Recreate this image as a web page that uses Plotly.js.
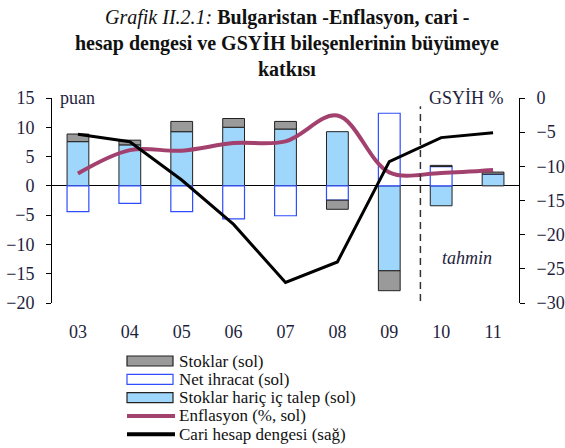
<!DOCTYPE html>
<html>
<head>
<meta charset="utf-8">
<script src="https://cdn.plot.ly/plotly-3.0.1.min.js"></script>
<style>
  html, body { margin: 0; padding: 0; background: #fff; }
  #chart { width: 565px; height: 448px; }
</style>
</head>
<body>
<div id="chart"></div>
<script>
// Bulgaristan: GSYİH bileşenlerinin büyümeye katkısı (puan, sol), enflasyon (sol), cari denge (GSYİH %, sağ)
const YEARS = ["03", "04", "05", "06", "07", "08", "09", "10", "11"];
const X_POS = [0, 1, 2, 3, 4, 5, 6, 7, 8];
const BOUNDARIES = [0.5, 1.5, 2.5, 3.5, 4.5, 5.5, 6.5, 7.5];

const domesticDemand = [7.55, 7.0, 9.25, 10.0, 9.7, 9.25, -14.5, -3.4, 2.0];
const netExports = [-4.4, -3.0, -4.4, -5.65, -5.1, -2.45, 12.4, 3.3, 0];
const stocks = [1.3, 0.8, 1.75, 1.5, 1.3, -1.55, -3.4, 0.2, 0.35];
const inflation = [2.1, 6.1, 6.0, 7.3, 7.6, 12.0, 2.3, 2.2, 2.7];
const currentAccount = [-5.3, -6.4, -12.0, -18.5, -27.0, -24.0, -9.3, -5.8, -5.1];

// 2010 and later are forecasts ("tahmin")
const FORECAST_SPLIT = 6.6;

const SERIF = "Liberation Serif";
const INK = "#1e1e3c";
const COLORS = {
  stocks: "#9a9a9a", netExports: "#ffffff", netExportsLine: "#2f4cff",
  domestic: "#9fd6fb", inflation: "#a2416e", ca: "#000000",
};

// plot box in pixels (margins are fixed, legend is drawn below the plot by hand)
const M = { l: 52, r: 46, t: 98, b: 145 };
const H = 448, PLOT_H = H - M.t - M.b;
const pyPaper = py => (H - M.b - py) / PLOT_H;
const pxPaper = px => (px - M.l) / (565 - M.l - M.r);

const traces = [
  {
    x: X_POS, y: domesticDemand, name: "Stoklar hariç iç talep (sol)", type: "bar",
    marker: { color: COLORS.domestic, line: { color: "#222", width: 1 } },
  },
  {
    x: X_POS, y: netExports, name: "Net ihracat (sol)", type: "bar",
    marker: { color: COLORS.netExports, line: { color: COLORS.netExportsLine, width: 1.2 } },
  },
  {
    x: X_POS, y: stocks, name: "Stoklar (sol)", type: "bar",
    marker: { color: COLORS.stocks, line: { color: "#222", width: 1 } },
  },
  {
    x: X_POS, y: inflation, name: "Enflasyon (%, sol)", type: "scatter", mode: "lines",
    line: { color: COLORS.inflation, width: 4, shape: "spline", smoothing: 1 },
  },
  {
    x: X_POS, y: currentAccount, name: "Cari hesap dengesi (sağ)", type: "scatter", mode: "lines",
    yaxis: "y2", line: { color: COLORS.ca, width: 3 },
  },
];

// hand-made legend, same order and look as the original
const LEGEND_ITEMS = [
  { label: "Stoklar (sol)", kind: "box", fill: COLORS.stocks, edge: "#222" },
  { label: "Net ihracat (sol)", kind: "box", fill: COLORS.netExports, edge: COLORS.netExportsLine },
  { label: "Stoklar hariç iç talep (sol)", kind: "box", fill: COLORS.domestic, edge: "#222" },
  { label: "Enflasyon (%, sol)", kind: "line", color: COLORS.inflation },
  { label: "Cari hesap dengesi (sağ)", kind: "line", color: COLORS.ca },
];

const legendShapes = [], legendNotes = [];
LEGEND_ITEMS.forEach((it, i) => {
  const cy = 361 + 18.3 * i;
  if (it.kind === "box") {
    legendShapes.push({
      type: "rect", xref: "paper", yref: "paper",
      x0: pxPaper(127), x1: pxPaper(173), y0: pyPaper(cy + 5), y1: pyPaper(cy - 5),
      fillcolor: it.fill, line: { color: it.edge, width: 1.2 },
    });
  } else {
    legendShapes.push({
      type: "line", xref: "paper", yref: "paper",
      x0: pxPaper(127), x1: pxPaper(175), y0: pyPaper(cy), y1: pyPaper(cy),
      line: { color: it.color, width: 4 },
    });
  }
  legendNotes.push({
    text: it.label, xref: "paper", yref: "paper", x: pxPaper(177), y: pyPaper(cy),
    xanchor: "left", yanchor: "middle", showarrow: false,
    font: { family: SERIF, size: 17, color: "#111" },
  });
});

const tickFont = { family: SERIF, size: 18, color: INK };
const titleFont = { family: SERIF, size: 20, color: "#111" };

const layout = {
  width: 565, height: 448,
  margin: { l: M.l, r: M.r, t: M.t, b: M.b, autoexpand: false },
  paper_bgcolor: "#fff", plot_bgcolor: "#fff",
  font: { family: SERIF, size: 16, color: INK },
  barmode: "relative", bargap: 0.58,
  showlegend: false,
  xaxis: {
    range: [-0.5, 8.5], tickvals: X_POS, ticktext: YEARS,
    showline: false, showgrid: false, zeroline: false, ticks: "",
    ticklabelstandoff: 16, tickfont: tickFont,
  },
  xaxis2: {
    overlaying: "x", anchor: "free", position: 20 / 35, side: "bottom",
    range: [-0.5, 8.5], tickvals: BOUNDARIES, ticks: "inside", ticklen: 5,
    tickcolor: "#000", showticklabels: false, showline: false, showgrid: false, zeroline: false,
  },
  yaxis: {
    range: [-20, 15], dtick: 5, ticks: "outside", ticklen: 5, tickcolor: "#000",
    showline: true, linecolor: "#000", linewidth: 1, showgrid: false,
    zeroline: true, zerolinecolor: "#000", zerolinewidth: 1,
    ticklabelstandoff: 8, tickfont: tickFont,
  },
  yaxis2: {
    overlaying: "y", side: "right", range: [-30, 0], dtick: 5,
    ticks: "outside", ticklen: 5, tickcolor: "#000",
    showline: true, linecolor: "#000", linewidth: 1, showgrid: false, zeroline: false,
    ticklabelstandoff: 8, tickfont: tickFont,
  },
  shapes: [
    {
      type: "line", xref: "x", yref: "paper", x0: FORECAST_SPLIT, x1: FORECAST_SPLIT, y0: 0.01, y1: 0.96,
      line: { color: "#333", width: 1.5, dash: "7px,5px" },
    },
    ...legendShapes,
  ],
  annotations: [
    { text: "<i>Grafik II.2.1:</i> <b>Bulgaristan -Enflasyon, cari -</b>", xref: "paper", yref: "paper",
      x: pxPaper(287), y: pyPaper(17), xanchor: "center", yanchor: "middle", showarrow: false, font: titleFont },
    { text: "<b>hesap dengesi ve GSYİH bileşenlerinin büyümeye</b>", xref: "paper", yref: "paper",
      x: pxPaper(287), y: pyPaper(43), xanchor: "center", yanchor: "middle", showarrow: false, font: titleFont },
    { text: "<b>katkısı</b>", xref: "paper", yref: "paper",
      x: pxPaper(287), y: pyPaper(69), xanchor: "center", yanchor: "middle", showarrow: false, font: titleFont },
    { text: "puan", xref: "paper", yref: "paper", x: pxPaper(58), y: 1.0, xanchor: "left", yanchor: "middle",
      showarrow: false, font: { family: SERIF, size: 18, color: INK } },
    { text: "GSYİH %", xref: "paper", yref: "paper", x: pxPaper(506), y: 1.0, xanchor: "right", yanchor: "middle",
      showarrow: false, font: { family: SERIF, size: 18, color: INK } },
    { text: "<i>tahmin</i>", xref: "paper", yref: "paper", x: pxPaper(467), y: pyPaper(258), xanchor: "center", yanchor: "middle",
      showarrow: false, font: { family: SERIF, size: 18, color: INK } },
    ...legendNotes,
  ],
};

Plotly.newPlot("chart", traces, layout, { displayModeBar: false, staticPlot: true });
</script>
</body>
</html>
